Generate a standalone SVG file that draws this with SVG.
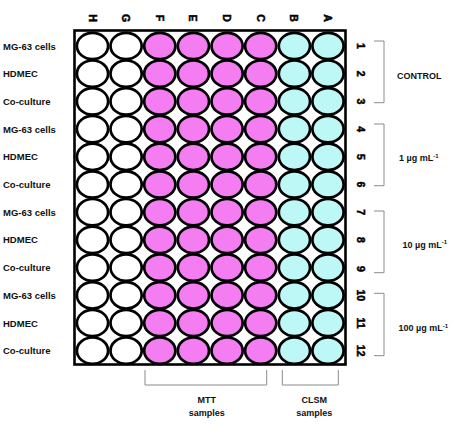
<svg xmlns="http://www.w3.org/2000/svg" width="454" height="426" viewBox="0 0 454 426">
<style>
.w{stroke:#000;stroke-width:2.7}
.e{fill:#fff}
.m{fill:#f47df2}
.c{fill:#bdf8f6}
.lab{font-family:"Liberation Sans",Arial,sans-serif;font-weight:bold;font-size:9.5px;fill:#111}
.rl{font-family:"Liberation Sans",Arial,sans-serif;font-weight:bold;font-size:9px;fill:#111}
.rot{font-family:"Liberation Sans",Arial,sans-serif;font-weight:bold;font-size:10.5px;fill:#000;stroke:#000;stroke-width:0.5;text-anchor:middle;dominant-baseline:central}
.br{fill:none;stroke:#8a8a8a;stroke-width:1}
</style>
<rect width="454" height="426" fill="#fff"/>
<g id="plate">
<rect x="74.5" y="30.5" width="271" height="334" fill="#fff" stroke="#000" stroke-width="2.6"/>
<g id="wells" class="w">
<g id="colH" class="e"><ellipse cx="92.5" cy="46" rx="15.6" ry="13.2"/><ellipse cx="92.5" cy="73.7" rx="15.6" ry="13.2"/><ellipse cx="92.5" cy="101.4" rx="15.6" ry="13.2"/><ellipse cx="92.5" cy="129.1" rx="15.6" ry="13.2"/><ellipse cx="92.5" cy="156.8" rx="15.6" ry="13.2"/><ellipse cx="92.5" cy="184.5" rx="15.6" ry="13.2"/><ellipse cx="92.5" cy="212.2" rx="15.6" ry="13.2"/><ellipse cx="92.5" cy="239.9" rx="15.6" ry="13.2"/><ellipse cx="92.5" cy="267.6" rx="15.6" ry="13.2"/><ellipse cx="92.5" cy="295.3" rx="15.6" ry="13.2"/><ellipse cx="92.5" cy="323" rx="15.6" ry="13.2"/><ellipse cx="92.5" cy="350.7" rx="15.6" ry="13.2"/></g>
<g id="colG" class="e"><ellipse cx="126.1" cy="46" rx="15.6" ry="13.2"/><ellipse cx="126.1" cy="73.7" rx="15.6" ry="13.2"/><ellipse cx="126.1" cy="101.4" rx="15.6" ry="13.2"/><ellipse cx="126.1" cy="129.1" rx="15.6" ry="13.2"/><ellipse cx="126.1" cy="156.8" rx="15.6" ry="13.2"/><ellipse cx="126.1" cy="184.5" rx="15.6" ry="13.2"/><ellipse cx="126.1" cy="212.2" rx="15.6" ry="13.2"/><ellipse cx="126.1" cy="239.9" rx="15.6" ry="13.2"/><ellipse cx="126.1" cy="267.6" rx="15.6" ry="13.2"/><ellipse cx="126.1" cy="295.3" rx="15.6" ry="13.2"/><ellipse cx="126.1" cy="323" rx="15.6" ry="13.2"/><ellipse cx="126.1" cy="350.7" rx="15.6" ry="13.2"/></g>
<g id="colF" class="m"><ellipse cx="159.8" cy="46" rx="15.6" ry="13.2"/><ellipse cx="159.8" cy="73.7" rx="15.6" ry="13.2"/><ellipse cx="159.8" cy="101.4" rx="15.6" ry="13.2"/><ellipse cx="159.8" cy="129.1" rx="15.6" ry="13.2"/><ellipse cx="159.8" cy="156.8" rx="15.6" ry="13.2"/><ellipse cx="159.8" cy="184.5" rx="15.6" ry="13.2"/><ellipse cx="159.8" cy="212.2" rx="15.6" ry="13.2"/><ellipse cx="159.8" cy="239.9" rx="15.6" ry="13.2"/><ellipse cx="159.8" cy="267.6" rx="15.6" ry="13.2"/><ellipse cx="159.8" cy="295.3" rx="15.6" ry="13.2"/><ellipse cx="159.8" cy="323" rx="15.6" ry="13.2"/><ellipse cx="159.8" cy="350.7" rx="15.6" ry="13.2"/></g>
<g id="colE" class="m"><ellipse cx="193.4" cy="46" rx="15.6" ry="13.2"/><ellipse cx="193.4" cy="73.7" rx="15.6" ry="13.2"/><ellipse cx="193.4" cy="101.4" rx="15.6" ry="13.2"/><ellipse cx="193.4" cy="129.1" rx="15.6" ry="13.2"/><ellipse cx="193.4" cy="156.8" rx="15.6" ry="13.2"/><ellipse cx="193.4" cy="184.5" rx="15.6" ry="13.2"/><ellipse cx="193.4" cy="212.2" rx="15.6" ry="13.2"/><ellipse cx="193.4" cy="239.9" rx="15.6" ry="13.2"/><ellipse cx="193.4" cy="267.6" rx="15.6" ry="13.2"/><ellipse cx="193.4" cy="295.3" rx="15.6" ry="13.2"/><ellipse cx="193.4" cy="323" rx="15.6" ry="13.2"/><ellipse cx="193.4" cy="350.7" rx="15.6" ry="13.2"/></g>
<g id="colD" class="m"><ellipse cx="227.1" cy="46" rx="15.6" ry="13.2"/><ellipse cx="227.1" cy="73.7" rx="15.6" ry="13.2"/><ellipse cx="227.1" cy="101.4" rx="15.6" ry="13.2"/><ellipse cx="227.1" cy="129.1" rx="15.6" ry="13.2"/><ellipse cx="227.1" cy="156.8" rx="15.6" ry="13.2"/><ellipse cx="227.1" cy="184.5" rx="15.6" ry="13.2"/><ellipse cx="227.1" cy="212.2" rx="15.6" ry="13.2"/><ellipse cx="227.1" cy="239.9" rx="15.6" ry="13.2"/><ellipse cx="227.1" cy="267.6" rx="15.6" ry="13.2"/><ellipse cx="227.1" cy="295.3" rx="15.6" ry="13.2"/><ellipse cx="227.1" cy="323" rx="15.6" ry="13.2"/><ellipse cx="227.1" cy="350.7" rx="15.6" ry="13.2"/></g>
<g id="colC" class="m"><ellipse cx="260.7" cy="46" rx="15.6" ry="13.2"/><ellipse cx="260.7" cy="73.7" rx="15.6" ry="13.2"/><ellipse cx="260.7" cy="101.4" rx="15.6" ry="13.2"/><ellipse cx="260.7" cy="129.1" rx="15.6" ry="13.2"/><ellipse cx="260.7" cy="156.8" rx="15.6" ry="13.2"/><ellipse cx="260.7" cy="184.5" rx="15.6" ry="13.2"/><ellipse cx="260.7" cy="212.2" rx="15.6" ry="13.2"/><ellipse cx="260.7" cy="239.9" rx="15.6" ry="13.2"/><ellipse cx="260.7" cy="267.6" rx="15.6" ry="13.2"/><ellipse cx="260.7" cy="295.3" rx="15.6" ry="13.2"/><ellipse cx="260.7" cy="323" rx="15.6" ry="13.2"/><ellipse cx="260.7" cy="350.7" rx="15.6" ry="13.2"/></g>
<g id="colB" class="c"><ellipse cx="294.4" cy="46" rx="15.6" ry="13.2"/><ellipse cx="294.4" cy="73.7" rx="15.6" ry="13.2"/><ellipse cx="294.4" cy="101.4" rx="15.6" ry="13.2"/><ellipse cx="294.4" cy="129.1" rx="15.6" ry="13.2"/><ellipse cx="294.4" cy="156.8" rx="15.6" ry="13.2"/><ellipse cx="294.4" cy="184.5" rx="15.6" ry="13.2"/><ellipse cx="294.4" cy="212.2" rx="15.6" ry="13.2"/><ellipse cx="294.4" cy="239.9" rx="15.6" ry="13.2"/><ellipse cx="294.4" cy="267.6" rx="15.6" ry="13.2"/><ellipse cx="294.4" cy="295.3" rx="15.6" ry="13.2"/><ellipse cx="294.4" cy="323" rx="15.6" ry="13.2"/><ellipse cx="294.4" cy="350.7" rx="15.6" ry="13.2"/></g>
<g id="colA" class="c"><ellipse cx="328" cy="46" rx="15.6" ry="13.2"/><ellipse cx="328" cy="73.7" rx="15.6" ry="13.2"/><ellipse cx="328" cy="101.4" rx="15.6" ry="13.2"/><ellipse cx="328" cy="129.1" rx="15.6" ry="13.2"/><ellipse cx="328" cy="156.8" rx="15.6" ry="13.2"/><ellipse cx="328" cy="184.5" rx="15.6" ry="13.2"/><ellipse cx="328" cy="212.2" rx="15.6" ry="13.2"/><ellipse cx="328" cy="239.9" rx="15.6" ry="13.2"/><ellipse cx="328" cy="267.6" rx="15.6" ry="13.2"/><ellipse cx="328" cy="295.3" rx="15.6" ry="13.2"/><ellipse cx="328" cy="323" rx="15.6" ry="13.2"/><ellipse cx="328" cy="350.7" rx="15.6" ry="13.2"/></g>
</g>
</g>
<g id="column-letters">
<text class="rot" transform="translate(92.5,18) rotate(90)">H</text>
<text class="rot" transform="translate(126.1,18) rotate(90)">G</text>
<text class="rot" transform="translate(159.8,18) rotate(90)">F</text>
<text class="rot" transform="translate(193.4,18) rotate(90)">E</text>
<text class="rot" transform="translate(227.1,18) rotate(90)">D</text>
<text class="rot" transform="translate(260.7,18) rotate(90)">C</text>
<text class="rot" transform="translate(294.4,18) rotate(90)">B</text>
<text class="rot" transform="translate(328,18) rotate(90)">A</text>
</g>
<g id="row-numbers">
<text class="rot" transform="translate(361,46) rotate(90)">1</text>
<text class="rot" transform="translate(361,73.7) rotate(90)">2</text>
<text class="rot" transform="translate(361,101.4) rotate(90)">3</text>
<text class="rot" transform="translate(361,129.1) rotate(90)">4</text>
<text class="rot" transform="translate(361,156.8) rotate(90)">5</text>
<text class="rot" transform="translate(361,184.5) rotate(90)">6</text>
<text class="rot" transform="translate(361,212.2) rotate(90)">7</text>
<text class="rot" transform="translate(361,239.9) rotate(90)">8</text>
<text class="rot" transform="translate(361,269) rotate(90)">9</text>
<text class="rot" transform="translate(361,295.3) rotate(90)">10</text>
<text class="rot" transform="translate(361,323) rotate(90)">11</text>
<text class="rot" transform="translate(361,350.7) rotate(90)">12</text>
</g>
<g id="row-labels" dominant-baseline="central">
<text class="lab" x="3" y="46">MG-63 cells</text>
<text class="lab" x="3" y="73.7">HDMEC</text>
<text class="lab" x="3" y="101.4">Co-culture</text>
<text class="lab" x="3" y="129.1">MG-63 cells</text>
<text class="lab" x="3" y="156.8">HDMEC</text>
<text class="lab" x="3" y="184.5">Co-culture</text>
<text class="lab" x="3" y="212.2">MG-63 cells</text>
<text class="lab" x="3" y="239.9">HDMEC</text>
<text class="lab" x="3" y="267.6">Co-culture</text>
<text class="lab" x="3" y="295.3">MG-63 cells</text>
<text class="lab" x="3" y="323">HDMEC</text>
<text class="lab" x="3" y="350.7">Co-culture</text>
</g>
<g id="connectors">
<path class="br" d="M374,41 H384 V102.7 H374"/>
<path class="br" d="M374,124 H384 V185.7 H374"/>
<path class="br" d="M374,211 H384 V272.7 H374"/>
<path class="br" d="M374,293.3 H384 V355.7 H374"/>
<path class="br" d="M145,370 V385 H266.7 V370"/>
<path class="br" d="M282.3,370 V385 H338.3 V370"/>
</g>
<g id="group-labels">
<text class="rl" x="397" y="78.5">CONTROL</text>
<text class="rl" x="399" y="161">1 µg mL<tspan font-size="6" dy="-3.5">-1</tspan></text>
<text class="rl" x="402.5" y="247.5">10 µg mL<tspan font-size="6" dy="-3.5">-1</tspan></text>
<text class="rl" x="398.5" y="331">100 µg mL<tspan font-size="6" dy="-3.5">-1</tspan></text>
</g>
<g id="sample-labels" text-anchor="middle">
<text class="rl" x="206.7" y="402.5">MTT</text>
<text class="rl" x="206.7" y="415.5">samples</text>
<text class="rl" x="314.3" y="402.5">CLSM</text>
<text class="rl" x="314.3" y="415.5">samples</text>
</g>
</svg>
